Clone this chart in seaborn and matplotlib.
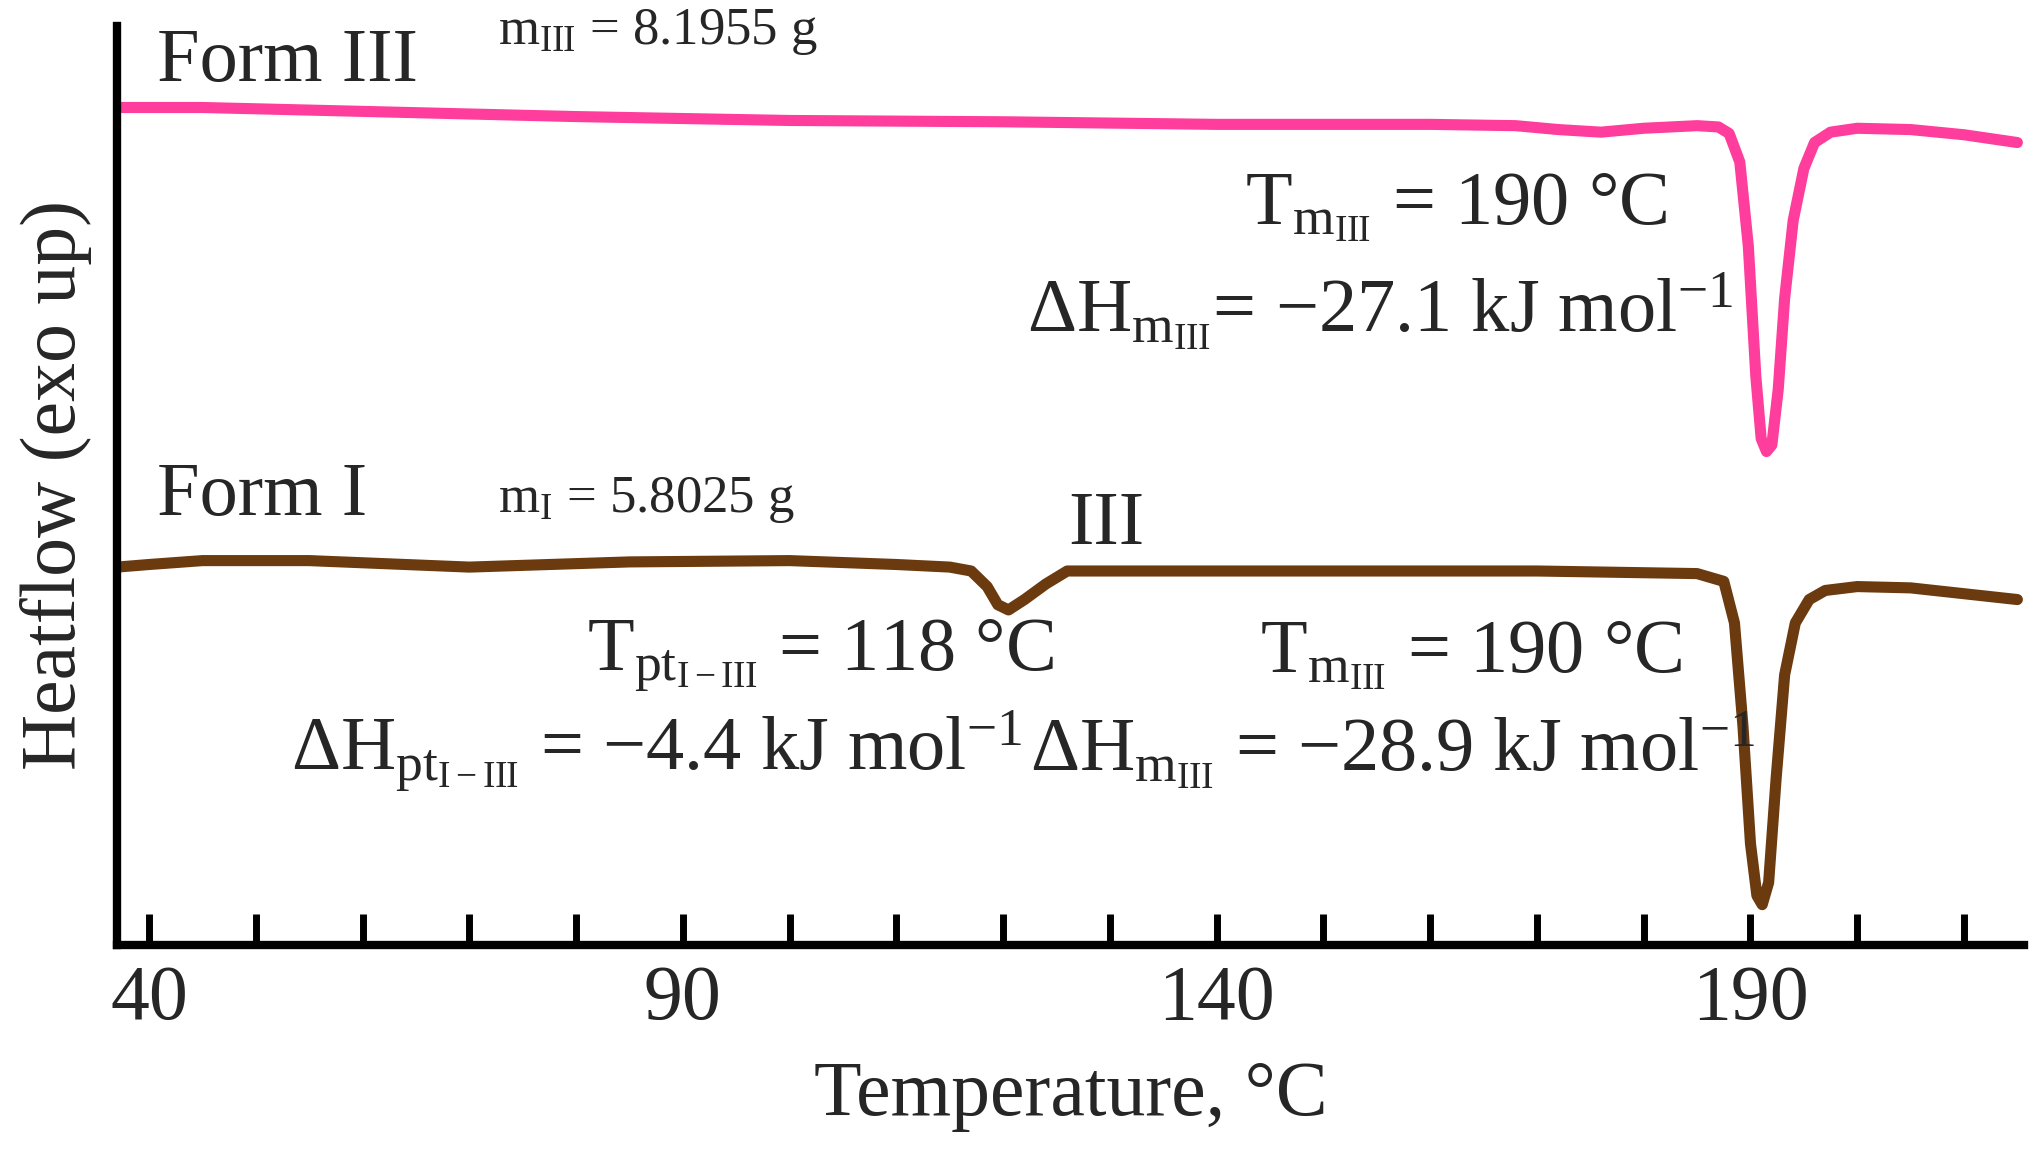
import matplotlib
matplotlib.use("Agg")
import matplotlib.pyplot as plt
import seaborn as sns
import pandas as pd

# --- DATA (temperature in degC, heat flow in arbitrary units, exo up) ---
temp_III = [37, 45, 60, 80, 100, 120, 140, 160, 168, 172, 176, 180, 185, 187, 188, 189, 189.8, 190.5,
            191.0, 191.5, 192.0, 192.6, 193.2, 194.0, 195.0, 196.0, 197.5, 200, 205, 210, 215]
heat_III = [-83, -83, -86, -90, -93, -94, -96, -96, -97, -100, -102, -99, -97, -98, -103, -125, -190, -290,
            -338, -348, -343, -300, -230, -170, -130, -110, -102, -99, -100, -104, -110]
temp_I = [37, 40, 45, 55, 70, 85, 100, 110, 115, 117, 118.5, 119.5, 120.5, 122, 124, 126, 130, 150,
          170, 185, 187.5, 188.5, 189.3, 190.0, 190.6, 191.1, 191.7, 192.4, 193.2, 194.2, 195.5, 197, 200, 205, 215]
heat_I = [-437, -435, -432, -432, -437, -433, -432, -435, -437, -440, -452, -466, -470, -462, -450, -440, -440, -440,
          -440, -442, -448, -480, -560, -650, -690, -697, -680, -600, -520, -480, -462, -455, -452, -453, -462]

df_III = pd.DataFrame({"temperature": temp_III, "heatflow": heat_III})
df_I = pd.DataFrame({"temperature": temp_I, "heatflow": heat_I})

sns.set_style("ticks")
plt.rcParams["font.family"] = ["Liberation Serif", "DejaVu Serif"]
plt.rcParams["mathtext.fontset"] = "custom"
plt.rcParams["mathtext.rm"] = "Liberation Serif"
plt.rcParams["mathtext.it"] = "Liberation Serif:italic"

fig = plt.figure(figsize=(20.36, 11.68), dpi=100)
ax = fig.add_axes([0.0575, 0.191, 0.9365, 0.787])

sns.lineplot(data=df_III, x="temperature", y="heatflow", color="#fe3d9c", lw=8, ax=ax,
             solid_joinstyle="round", solid_capstyle="round")
sns.lineplot(data=df_I, x="temperature", y="heatflow", color="#6b3a0f", lw=8, ax=ax,
             solid_joinstyle="round", solid_capstyle="round")

ax.set_xlim(37, 215.6)
ax.set_ylim(-728, -20)
ax.set_yticks([])
ax.set_xticks(range(40, 216, 10))
ax.set_xticklabels([str(t) if t in (40, 90, 140, 190) else "" for t in range(40, 216, 10)])
ax.tick_params(axis="x", direction="in", length=22, width=5, labelsize=56, pad=14, color="black")
for s in ["top", "right"]:
    ax.spines[s].set_visible(False)
for s in ["left", "bottom"]:
    ax.spines[s].set_linewidth(6)
    ax.spines[s].set_color("black")
ax.set_xlabel("Temperature, °C", fontsize=56, labelpad=18)
ax.set_ylabel("Heatflow (exo up)", fontsize=56, labelpad=18)

big = 55
small = 38
ax.text(40.7, -48, "Form III", fontsize=big, va="center")
ax.text(72.7, -25, r"m$_{\mathrm{III}}$ = 8.1955 g", fontsize=small, va="center")
ax.text(162.4, -160, r"T$_{\mathrm{m_{III}}}$ = 190 °C", fontsize=big, va="center", ha="center")
ax.text(155.3, -240, r"ΔH$_{\mathrm{m_{III}}}$= −27.1 kJ mol$^{-1}$", fontsize=big, va="center", ha="center")
ax.text(40.7, -383, "Form I", fontsize=big, va="center")
ax.text(72.7, -385, r"m$_{\mathrm{I}}$ = 5.8025 g", fontsize=small, va="center")
ax.text(129.7, -405, "III", fontsize=big, va="center", ha="center")
ax.text(102.9, -505, r"T$_{\mathrm{pt_{I-III}}}$ = 118 °C", fontsize=big, va="center", ha="center")
ax.text(87.5, -578, r"ΔH$_{\mathrm{pt_{I-III}}}$ = −4.4 kJ mol$^{-1}$", fontsize=big, va="center", ha="center")
ax.text(163.8, -505, r"T$_{\mathrm{m_{III}}}$ = 190 °C", fontsize=big, va="center", ha="center")
ax.text(156.5, -578, r"ΔH$_{\mathrm{m_{III}}}$ = −28.9 kJ mol$^{-1}$", fontsize=big, va="center", ha="center")

fig.savefig("out.png", dpi=100)
